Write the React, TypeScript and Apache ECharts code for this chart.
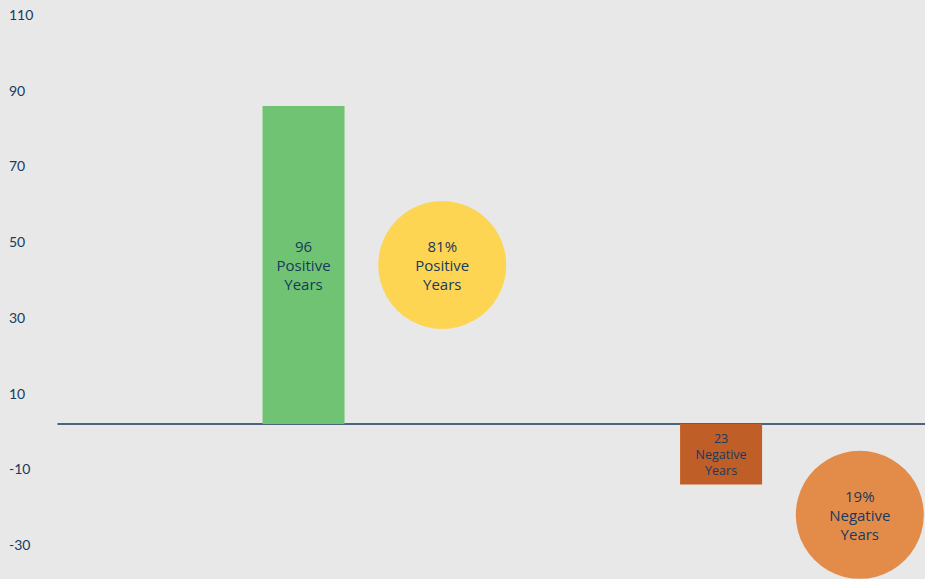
import React, { useEffect, useRef } from "react";
import * as echarts from "echarts";

const yTicks = [-30, -10, 10, 30, 50, 70, 90, 110];
const barSlots = [1.77, 4.78];
const barValues = [84, -16];
const barLabels = ["96\nPositive\nYears", "23\nNegative\nYears"];
const circleSlots = [2.77, 5.78];
const circleValues = [42, -24];
const circleLabels = ["81%\nPositive\nYears", "19%\nNegative\nYears"];

const NAVY = "#173a5e";
const LABEL_FONT = "'Open Sans', 'Noto Sans', sans-serif";

export default function App() {
  const ref = useRef<HTMLDivElement>(null);
  useEffect(() => {
    if (!ref.current) return;
    const chart = echarts.init(ref.current, undefined, { renderer: "svg" });
    const barColors = ["#6fc372", "#bf5e27"];
    const barFont = [15, 12.5];
    const barLH = [19, 16];
    const circleColors = ["#fdd553", "#e38c4a"];
    chart.setOption({
      animation: false,
      backgroundColor: "#e8e8e8",
      textStyle: { fontFamily: LABEL_FONT },
      grid: { left: 58, right: 0, top: 7.5, bottom: 3.6, containLabel: false },
      xAxis: {
        type: "value",
        min: 0,
        max: 6.25,
        axisLine: { show: true, onZero: true, lineStyle: { color: "#1a3858", width: 1.5 } },
        axisTick: { show: false },
        axisLabel: { show: false },
        splitLine: { show: false },
      },
      yAxis: {
        type: "value",
        min: -40,
        max: 110,
        axisLine: { show: false },
        axisTick: { show: false },
        splitLine: { show: false },
        axisLabel: {
          customValues: yTicks,
          align: "left",
          verticalAlign: "top",
          margin: 49,
          color: NAVY,
          fontSize: 14,
          fontFamily: "Lato, sans-serif",
        },
      },
      series: [
        {
          type: "bar",
          barWidth: 82,
          z: 1,
          data: barValues.map((v, i) => ({
            value: [barSlots[i], v],
            itemStyle: { color: barColors[i] },
            label: {
              show: true,
              position: "inside",
              color: NAVY,
              fontFamily: LABEL_FONT,
              fontSize: barFont[i],
              lineHeight: barLH[i],
              align: "center",
              formatter: barLabels[i],
            },
          })),
        },
        {
          type: "scatter",
          symbol: "circle",
          symbolSize: 128,
          z: 3,
          data: circleValues.map((v, i) => ({
            value: [circleSlots[i], v],
            itemStyle: { color: circleColors[i], opacity: 1 },
            label: {
              show: true,
              position: "inside",
              color: NAVY,
              fontFamily: LABEL_FONT,
              fontSize: 15,
              lineHeight: 19,
              align: "center",
              formatter: circleLabels[i],
            },
          })),
        },
      ],
    });
    return () => chart.dispose();
  }, []);
  return (
    <div
      ref={ref}
      style={{ position: "fixed", left: 0, top: 0, width: 925, height: 579 }}
    />
  );
}
